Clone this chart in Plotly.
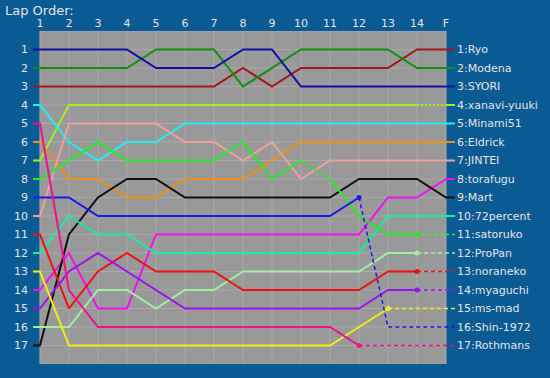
import plotly.graph_objects as go

# ---------------- data ----------------
LAP_LABELS = ["1", "2", "3", "4", "5", "6", "7", "8", "9", "10", "11", "12", "13", "14", "F"]
ROW_LABELS = [str(i) for i in range(1, 18)]

DRIVERS = ["Ryo", "Modena", "SYORI", "xanavi-yuuki", "Minami51", "Eldrick", "JINTEI",
           "torafugu", "Mart", "72percent", "satoruko", "ProPan", "noraneko",
           "myaguchi", "ms-mad", "Shin-1972", "Rothmans"]

COLORS = ["#a01818", "#109010", "#1010a0", "#a0f020", "#20f0f0", "#f09010", "#f0a0a0",
          "#f010f0", "#101010", "#10f0a0", "#20f020", "#a0f0a0", "#f01010",
          "#a010f0", "#f0f010", "#1818f0", "#f01090"]

# positions per lap (laps 1..14, F); None = not recorded
RYO       = [3, 3, 3, 3, 3, 3, 3, 2, 3, 2, 2, 2, 2, 1, 1]
MODENA    = [2, 2, 2, 2, 1, 1, 1, 3, 2, 1, 1, 1, 1, 2, 2]
SYORI     = [1, 1, 1, 1, 2, 2, 2, 1, 1, 3, 3, 3, 3, 3, 3]
XANAVI    = [7, 4, 4, 4, 4, 4, 4, 4, 4, 4, 4, 4, 4, 4, 4]
MINAMI51  = [4, 6, 7, 6, 6, 5, 5, 5, 5, 5, 5, 5, 5, 5, 5]
ELDRICK   = [6, 8, 8, 9, 9, 8, 8, 8, 7, 6, 6, 6, 6, 6, 6]
JINTEI    = [10, 5, 5, 5, 5, 6, 6, 7, 6, 8, 7, 7, 7, 7, 7]
TORAFUGU  = [14, 12, 15, 15, 11, 11, 11, 11, 11, 11, 11, 11, 9, 9, 8]
MART      = [17, 11, 9, 8, 8, 9, 9, 9, 9, 9, 9, 8, 8, 8, 9]
P72       = [12, 10, 11, 11, 12, 12, 12, 12, 12, 12, 12, 12, 10, 10, 10]
SATORUKO  = [8, 7, 6, 7, 7, 7, 7, 6, 8, 7, 8, 10, 11, 11, 11]
PROPAN    = [16, 16, 14, 14, 15, 14, 14, 13, 13, 13, 13, 13, 12, 12, 12]
NORANEKO  = [11, 15, 13, 12, 13, 13, 13, 14, 14, 14, 14, 14, 13, 13, 13]
MYAGUCHI  = [15, 13, 12, 13, 14, 15, 15, 15, 15, 15, 15, 15, 14, 14, 14]
MSMAD     = [13, 17, 17, 17, 17, 17, 17, 17, 17, 17, 17, 16, 15, None, 15]
SHIN      = [9, 9, 10, 10, 10, 10, 10, 10, 10, 10, 10, 9, 16, None, 16]
ROTHMANS  = [5, 14, 16, 16, 16, 16, 16, 16, 16, 16, 16, 17, None, None, 17]

POSITIONS = [RYO, MODENA, SYORI, XANAVI, MINAMI51, ELDRICK, JINTEI, TORAFUGU, MART,
             P72, SATORUKO, PROPAN, NORANEKO, MYAGUCHI, MSMAD, SHIN, ROTHMANS]

# last lap run (marker), after which the line is dashed
LAST_LAP = {"satoruko": 14, "ProPan": 14, "noraneko": 14, "myaguchi": 14,
            "ms-mad": 13, "Shin-1972": 12, "Rothmans": 12}
# dotted lap segments
DOTTED = {"satoruko": [(10, 11)], "xanavi-yuuki": [(14, 15)]}

# ---------------- style ----------------
BG = "#0a5a94"
PLOT_GRAY = "#999999"
GRID = "#aaaaaa"
TEXT = "#e4e4e4"
FONT = "DejaVu Sans"
STUB_L = 0.24
STUB_R = 0.31
N = len(LAP_LABELS)
STYLE = {"solid": dict(dash="solid", width=2),
         "dot": dict(dash="2px,2px", width=2),
         "dash": dict(dash="4px,3px", width=1.5)}

fig = go.Figure()

for name, color, pos in zip(DRIVERS, COLORS, POSITIONS):
    pts = [(i + 1, p) for i, p in enumerate(pos) if p is not None]
    last = LAST_LAP.get(name)
    dotted = DOTTED.get(name, [])
    segs = []
    for (x0, y0), (x1, y1) in zip(pts, pts[1:]):
        if last is not None and x0 >= last:
            st = "dash"
        elif (x0, x1) in dotted:
            st = "dot"
        else:
            st = "solid"
        segs.append((st, x0, y0, x1, y1))
    # left stub
    segs.insert(0, ("solid", 1 - STUB_L, pos[0], 1, pos[0]))
    # right stub
    segs.append(("dash" if last is not None else "solid", N, pos[-1], N + STUB_R, pos[-1]))
    # merge into polylines
    lines = []
    for st, x0, y0, x1, y1 in segs:
        if lines and lines[-1][0] == st and lines[-1][1][-1] == x0:
            lines[-1][1].append(x1)
            lines[-1][2].append(y1)
        else:
            lines.append([st, [x0, x1], [y0, y1]])
    for st, xs, ys in lines:
        fig.add_trace(go.Scatter(x=xs, y=ys, mode="lines",
                                 line=dict(color=color, **STYLE[st]),
                                 showlegend=False, hoverinfo="skip"))
    if last is not None:
        fig.add_trace(go.Scatter(x=[last], y=[pos[last - 1]], mode="markers",
                                 marker=dict(color=color, size=5),
                                 showlegend=False, hoverinfo="skip"))

# grey plot area and grid as shapes
shapes = [dict(type="rect", xref="x", yref="y", x0=1, x1=N, y0=0, y1=18,
               fillcolor=PLOT_GRAY, line=dict(width=0), layer="below")]
for i in range(1, N + 1):
    shapes.append(dict(type="line", xref="x", yref="y", x0=i, x1=i, y0=0, y1=18,
                       line=dict(color=GRID, width=1), layer="below"))
for r in range(0, 19):
    shapes.append(dict(type="line", xref="x", yref="y", x0=1, x1=N, y0=r, y1=r,
                       line=dict(color=GRID, width=1), layer="below"))

# right-hand labels
annotations = []
for name, pos in zip(DRIVERS, POSITIONS):
    annotations.append(dict(x=1, xref="paper", y=pos[-1], yref="y",
                            text=f"{pos[-1]}:{name}", showarrow=False,
                            xanchor="left", yanchor="middle", xshift=0,
                            font=dict(family=FONT, size=11, color=TEXT)))

fig.update_layout(
    width=550, height=378,
    paper_bgcolor=BG, plot_bgcolor=BG,
    margin=dict(l=33, r=95, t=31, b=14, pad=0, autoexpand=False),
    shapes=shapes, annotations=annotations,
    title=dict(text="Lap Order:", x=5 / 550, xanchor="left", xref="container",
               y=1 - 10 / 378, yanchor="middle", yref="container",
               font=dict(family=FONT, size=13, color=TEXT)),
    xaxis=dict(range=[1 - STUB_L, N + STUB_R], side="top", showgrid=False,
               zeroline=False, showline=False, tickmode="array", automargin=False,
               tickvals=list(range(1, N + 1)), ticktext=LAP_LABELS, ticks="",
               ticklabelstandoff=1,
               tickfont=dict(family=FONT, size=11, color=TEXT)),
    yaxis=dict(range=[18, 0], showgrid=False, zeroline=False, showline=False,
               tickmode="array", tickvals=list(range(1, 18)), ticktext=ROW_LABELS,
               ticks="", ticklabelstandoff=4, automargin=False,
               tickfont=dict(family=FONT, size=11, color=TEXT)),
)

fig.write_html("out.html",
               config={"displayModeBar": False},
               post_script="document.body.style.margin='0';document.body.style.background='" + BG + "';")
